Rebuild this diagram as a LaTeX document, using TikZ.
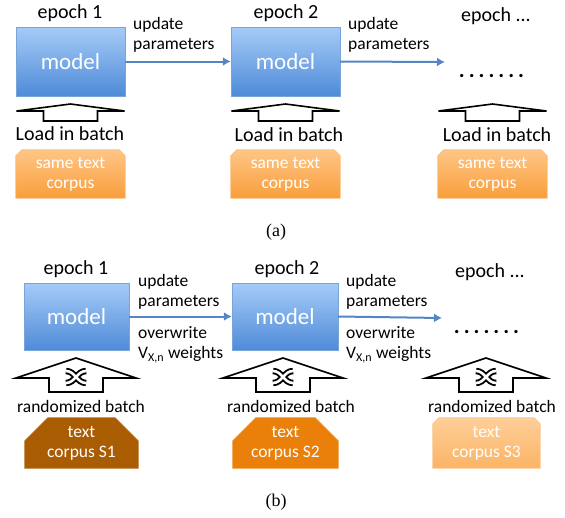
\documentclass[tikz,border=0pt]{standalone}
\usepackage{fontspec}
\setmainfont{Carlito}
\newfontfamily\capfont{Liberation Serif}
\usetikzlibrary{arrows.meta, positioning, calc, backgrounds}
\definecolor{modeltop}{RGB}{166,203,247}
\definecolor{modelbot}{RGB}{78,139,216}
\definecolor{modeledge}{RGB}{120,165,215}
\definecolor{updblue}{RGB}{84,134,196}
\definecolor{corptop}{RGB}{255,198,135}
\definecolor{corpbot}{RGB}{249,158,58}
\definecolor{corpS1}{RGB}{170,92,2}
\definecolor{corpS2}{RGB}{234,128,10}
\newcommand{\spdots}{.\hspace{4pt}.\hspace{4pt}.\hspace{4pt}.\hspace{4pt}.\hspace{4pt}.\hspace{4pt}.}

\tikzset{
  modelbox/.style={draw=modeledge, top color=modeltop, bottom color=modelbot,
    minimum width=109pt, minimum height=69pt, text=white, inner sep=0pt,
    font=\fontsize{23}{25}\selectfont},
  corpus/.style={minimum width=109pt, minimum height=48pt, inner sep=0pt,
    align=center, text=white, font=\fontsize{17.5}{20}\selectfont},
  textlow/.style={execute at begin node=\rule{0pt}{24pt}},
  corplight/.style={top color=corptop, bottom color=corpbot, draw=corpbot!70!white},
  corppale/.style={top color=corptop!85!white, bottom color=corpbot!78!white, draw=corpbot!60!white},
  corpdark/.style={fill=corpS1, draw=corpS1!90!white},
  corpmid/.style={fill=corpS2, draw=corpS2!90!white},
  epochlbl/.style={font=\fontsize{20}{22}\selectfont},
  updlbl/.style={font=\fontsize{17.5}{20}\selectfont, align=left, anchor=west, inner sep=0pt},
  batchlbl/.style={font=\fontsize{20}{22}\selectfont},
  randlbl/.style={font=\fontsize{17.5}{20}\selectfont},
  dotlbl/.style={font=\fontsize{22}{22}\selectfont\bfseries},
  updarrow/.style={draw=updblue, line width=2pt, -{Latex[length=8pt,width=9pt]}},
  caplbl/.style={font=\capfont\fontsize{18}{20}\selectfont},
  loadflat/.pic={
    \draw[line width=1.6pt, fill=white, line join=miter]
      (0,0) -- (54,7) -- (27,7) -- (27,17) -- (-27,17) -- (-27,7) -- (-54,7) -- cycle;
  },
  shufarrow/.pic={
    \draw[line width=1.6pt, fill=white, line join=miter]
      (0,0) -- (60,20) -- (27,20) -- (27,34) -- (-27,34) -- (-27,20) -- (-60,20) -- cycle;
    \draw[double=white, double distance=2.6pt, line width=1.9pt]
      (-10,13) .. controls (-1,13) and (1,25) .. (10,25)
      (-10,25) .. controls (-1,25) and (1,13) .. (10,13);
  }
}

\begin{document}
\begin{tikzpicture}[x=1pt, y=-1pt]
  \useasboundingbox (0,0) rectangle (565,517);

  % (a) same corpus every epoch
  \node[modelbox] (ma1) at (70.5,61.5) {model};
  \node[modelbox] (ma2) at (285.5,61.5) {model};
  \node[dotlbl] (da3) at (491.5,76) {\spdots};
  \coordinate (ea3) at (445,62);
  \node[epochlbl] (pa1) at (70,13) {epoch 1};
  \node[epochlbl] (pa2) at (286,13) {epoch 2};
  \node[epochlbl] (pa3) at (496,16) {epoch ...};
  \draw[updarrow] (ma1.east) -- (ma2.west);
  \draw[updarrow] (ma2.east) -- (ea3);
  \node[updlbl] (ua1) at (133,35) {update\\parameters};
  \node[updlbl] (ua2) at (348,35) {update\\parameters};
  \pic at (70.5,104) {loadflat};
  \pic at (285.5,104) {loadflat};
  \pic at (492.5,104) {loadflat};
  \node[batchlbl] (la1) at (70,134) {Load in batch};
  \node[batchlbl] (la2) at (289,135) {Load in batch};
  \node[batchlbl] (la3) at (497,135) {Load in batch};
  \node[corpus] (ca1) at (70.5,174) {same text\\corpus};
  \node[corpus] (ca2) at (285.5,174) {same text\\corpus};
  \node[corpus] (ca3) at (492.5,174) {same text\\corpus};
  \node[caplbl] (capa) at (276,232) {(a)};

  % (b) randomized corpus per epoch
  \node[modelbox, minimum width=105pt, minimum height=67pt] (mb1) at (76.5,316.5) {model};
  \node[modelbox, minimum width=106pt, minimum height=67pt] (mb2) at (285,316.5) {model};
  \node[dotlbl] (db3) at (486.5,332) {\spdots};
  \coordinate (eb3) at (442,318);
  \node[epochlbl] (pb1) at (76,269) {epoch 1};
  \node[epochlbl] (pb2) at (287,269) {epoch 2};
  \node[epochlbl] (pb3) at (490,272) {epoch ...};
  \draw[updarrow] (mb1.east) -- (mb2.west);
  \draw[updarrow] (mb2.east) -- (eb3);
  \node[updlbl] (ub1) at (138,292) {update\\parameters};
  \node[updlbl] (ub2) at (346,292) {update\\parameters};
  \node[updlbl] (wb1) at (138,345) {overwrite\\V\textsubscript{\fontsize{12}{12}\selectfont X,n} weights};
  \node[updlbl] (wb2) at (346,345) {overwrite\\V\textsubscript{\fontsize{12}{12}\selectfont X,n} weights};
  \pic at (76,358) {shufarrow};
  \pic at (283,358) {shufarrow};
  \pic at (486,358) {shufarrow};
  \node[randlbl] (rb1) at (81,406) {randomized batch};
  \node[randlbl] (rb2) at (291,406) {randomized batch};
  \node[randlbl] (rb3) at (492,406) {randomized batch};
  \node[corpus, textlow, minimum width=113pt, minimum height=50pt] (cb1) at (81.5,443) {text\\corpus S1};
  \node[corpus, textlow, minimum width=105pt, minimum height=50pt] (cb2) at (285.5,443) {text\\corpus S2};
  \node[corpus, minimum width=107pt, minimum height=50pt] (cb3) at (486.5,443) {text\\corpus S3};
  \node[caplbl] (capb) at (276,502) {(b)};

  % corpus boxes with cut top corners
  \begin{scope}[on background layer]
    \foreach \n/\c/\s in {ca1/6/corplight, ca2/6/corplight, ca3/6/corplight,
                          cb1/23/corpdark, cb2/23/corpmid, cb3/6/corppale}
      \path[\s, line width=0.8pt] (\n.south west) -- ($(\n.north west)+(0,\c)$)
        -- ($(\n.north west)+(\c,0)$) -- ($(\n.north east)+(-\c,0)$)
        -- ($(\n.north east)+(0,\c)$) -- (\n.south east) -- cycle;
  \end{scope}
\end{tikzpicture}
\end{document}
